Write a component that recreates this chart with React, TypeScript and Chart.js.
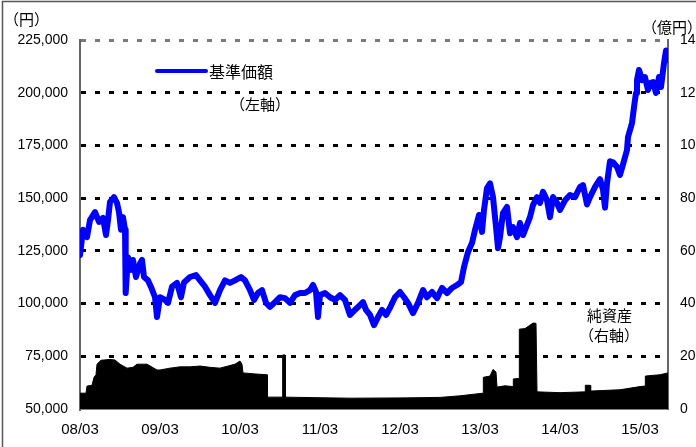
import React, { useEffect, useRef } from "react";
import { Chart, registerables } from "chart.js";

Chart.register(...registerables);

// x positions are months counted from 2008/03
const xTickMonths = [0, 12, 24, 36, 48, 60, 72, 84];
const xTickLabels = ["08/03", "09/03", "10/03", "11/03", "12/03", "13/03", "14/03", "15/03"];
const xMaxMonth = 88.2;

const leftTicks = [50000, 75000, 100000, 125000, 150000, 175000, 200000, 225000];
const rightTicks = [0, 20, 40, 60, 80, 100, 120, 140];

// 基準価額 (left axis, 円)
const navMonths = [
  0, 0.45, 1.05, 1.5, 2.25, 2.85, 3.45, 3.9, 4.2, 4.5, 5.1, 5.55, 5.85, 6.15, 6.45, 6.75, 6.85, 7.2,
  7.65, 7.95, 8.4, 9.0, 9.3, 9.6, 10.2, 10.65, 11.25, 11.55, 12.0, 12.75, 13.2, 13.8, 14.55, 15.15,
  15.6, 16.5, 17.4, 18.0, 18.75, 19.5, 20.25, 21.0, 21.75, 22.5, 23.25, 24.15, 24.75, 25.5, 26.1,
  26.7, 27.3, 27.9, 28.5, 29.25, 30.0, 30.75, 31.5, 32.25, 33.0, 33.75, 34.5, 34.95, 35.4, 35.7,
  36.0, 36.75, 37.5, 38.25, 39.0, 39.75, 40.5, 41.25, 42.0, 42.45, 42.9, 43.5, 44.1, 44.7, 45.3,
  45.9, 46.5, 47.25, 48.0, 48.6, 49.2, 49.95, 50.7, 51.45, 52.05, 52.8, 53.55, 54.3, 55.05, 55.8,
  56.55, 57.15, 57.6, 58.2, 58.8, 59.25, 59.85, 60.3, 60.6, 61.05, 61.5, 61.95, 62.4, 62.7, 63.0,
  63.45, 64.05, 64.5, 64.95, 65.55, 66.0, 66.45, 67.05, 67.5, 67.95, 68.55, 69.0, 69.45, 70.05,
  70.5, 70.95, 71.55, 72.0, 72.75, 73.5, 74.25, 75.0, 75.45, 76.05, 76.5, 77.25, 78.0, 78.45,
  78.75, 79.05, 79.5, 79.95, 80.55, 81.0, 81.45, 82.05, 82.2, 82.8, 83.1, 83.4, 83.55, 83.85,
  84.3, 84.75, 85.2, 85.5, 85.95, 86.4, 86.85, 87.15, 87.6, 87.9, 88.2,
];
const navValues = [
  123000, 135000, 131500, 139600, 143400, 138700, 140600, 132500, 139600, 148200, 150500, 147700,
  143400, 135000, 141000, 135000, 105000, 122000, 116000, 120700, 112600, 119000, 120700, 112600,
  111000, 107900, 103000, 93600, 103000, 101700, 100300, 108000, 109800, 103000, 110000, 112600,
  113500, 111000, 108000, 104000, 100300, 106400, 111000, 109800, 111000, 112600, 111000, 106400,
  101700, 105000, 106400, 100300, 98400, 100700, 103000, 102600, 100300, 104000, 105000, 105000,
  106400, 108800, 105500, 93600, 104000, 105000, 103000, 101700, 104000, 101700, 94600, 97000,
  99300, 100700, 97000, 94600, 89800, 93600, 97000, 94600, 98000, 103000, 105500, 103000, 100300,
  95500, 100300, 106400, 103000, 105500, 102600, 107400, 105000, 107400, 108800, 110200, 117300,
  124500, 128700, 134900, 142000, 134000, 144400, 154800, 157000, 150500, 136300, 126300, 131500,
  143000, 145800, 133400, 136300, 131500, 138200, 132500, 137300, 141000, 146700, 150500, 147700,
  153000, 149000, 141000, 150500, 147700, 144400, 149000, 151500, 150500, 155300, 156200, 147000,
  150500, 155300, 159000, 154000, 145500, 157000, 167500, 167000, 164800, 161000, 166000, 172800,
  179000, 185600, 193200, 199900, 206000, 210800, 206000, 207400, 201300, 204600, 205000, 199900,
  207400, 202700, 214000, 220000, 215500,
];

// 純資産 (right axis, 億円)
const assetMonths = [
  0, 0.9, 1.05, 1.8, 2.1, 2.4, 2.55, 3.15, 4.5, 5.25, 6.0, 7.05, 7.95, 8.55, 10.05, 11.55, 12.0,
  13.5, 15.0, 16.5, 18.0, 19.5, 21.0, 22.5, 23.25, 24.0, 24.3, 24.45, 26.25, 28.05, 28.1, 30.3,
  30.4, 30.75, 30.8, 33.0, 40.5, 48.0, 54.0, 57.0, 60.45, 60.5, 61.5, 61.95, 62.4, 62.55, 63.75,
  64.95, 65.0, 65.85, 65.9, 66.75, 67.95, 68.4, 68.55, 72.0, 75.75, 75.8, 76.5, 76.6, 81.0, 84.0,
  84.75, 84.8, 87.0, 88.2,
];
const assetValues = [
  6, 6, 8.7, 9, 12, 13, 17, 18.5, 18.8, 18.6, 17, 15.5, 15.8, 17, 17, 14.8, 14.8,
  15.5, 16, 16, 16.3, 15.8, 15.5, 16.5, 17, 18.2, 17, 13.7, 13.3, 13, 4.5, 4.5,
  20.5, 20.5, 4.5, 4.4, 4.1, 4.2, 4.4, 5, 6, 12, 12.5, 15, 14, 8.3, 8.8,
  8.5, 11.4, 11.6, 30.3, 30.5, 32.6, 32.5, 6.5, 6.2, 6.5, 9, 9, 6.8, 7.3, 8.5,
  8.7, 12.5, 13, 13.7,
];

const CJK = '"Noto Sans CJK JP", "Noto Sans", sans-serif';
const LAT = '"Liberation Sans", Arial, sans-serif';

const annotations = {
  id: "annotations",
  afterDraw(chart: any) {
    const ctx = chart.ctx;
    ctx.save();
    // outer frame
    ctx.strokeStyle = "#555";
    ctx.lineWidth = 1.5;
    ctx.beginPath();
    ctx.moveTo(2.5, 447);
    ctx.lineTo(2.5, 1.5);
    ctx.lineTo(696, 1.5);
    ctx.stroke();

    ctx.fillStyle = "#000";
    ctx.textBaseline = "middle";
    ctx.textAlign = "left";
    ctx.font = `15px ${CJK}`;
    ctx.fillText("（円）", 4, 19);
    ctx.fillText("（億円）", 642, 27);
    ctx.fillText("（左軸）", 230, 104);
    ctx.fillText("純資産", 587, 315);
    ctx.fillText("（右軸）", 579, 335);
    ctx.font = `16px ${CJK}`;
    ctx.fillText("基準価額", 209, 72);

    // legend line
    ctx.strokeStyle = "#0000FF";
    ctx.lineWidth = 4;
    ctx.lineCap = "round";
    ctx.beginPath();
    ctx.moveTo(157, 71);
    ctx.lineTo(206, 71);
    ctx.stroke();
    ctx.restore();
  },
};

export default function App() {
  const ref = useRef<HTMLCanvasElement | null>(null);

  useEffect(() => {
    document.body.style.margin = "0";
    const canvas = ref.current;
    if (!canvas) return;
    const chart = new Chart(canvas, {
      type: "line",
      data: {
        datasets: [
          {
            label: "基準価額",
            data: navMonths.map((m, i) => ({ x: m, y: navValues[i] })),
            yAxisID: "y",
            borderColor: "#0000FF",
            borderWidth: 6,
            pointRadius: 0,
            tension: 0,
            fill: false,
            borderJoinStyle: "round",
            borderCapStyle: "round",
          },
          {
            label: "純資産",
            data: assetMonths.map((m, i) => ({ x: m, y: assetValues[i] })),
            yAxisID: "y1",
            borderColor: "#000",
            backgroundColor: "#000",
            borderWidth: 1,
            pointRadius: 0,
            tension: 0,
            fill: "origin",
          },
        ],
      },
      options: {
        responsive: false,
        animation: false,
        devicePixelRatio: 1,
        layout: { padding: { top: 40, left: 0, right: 0, bottom: 0 } },
        plugins: { legend: { display: false }, tooltip: { enabled: false } },
        scales: {
          x: {
            type: "linear",
            min: 0,
            max: xMaxMonth,
            afterBuildTicks: (scale: any) => {
              scale.ticks = xTickMonths.map((v) => ({ value: v }));
            },
            afterFit: (scale: any) => {
              scale.height = 38;
            },
            grid: { display: false, drawTicks: false },
            border: { display: true, color: "#808080", width: 2 },
            ticks: {
              autoSkip: false,
              maxRotation: 0,
              padding: 12,
              color: "#000",
              font: { family: LAT, size: 15 },
              callback: (v: any) => {
                const i = xTickMonths.indexOf(Number(v));
                return i >= 0 ? xTickLabels[i] : "";
              },
            },
          },
          y: {
            type: "linear",
            position: "left",
            min: 50000,
            max: 225000,
            afterBuildTicks: (scale: any) => {
              scale.ticks = leftTicks.map((v) => ({ value: v }));
            },
            afterFit: (scale: any) => {
              scale.width = 80;
            },
            grid: {
              drawTicks: false,
              lineWidth: 3,
              color: (c: any) =>
                c.tick && c.tick.value === 50000
                  ? "rgba(0,0,0,0)"
                  : c.tick && c.tick.value === 225000
                  ? "#7a7a7a"
                  : "#000",
            },
            border: { display: true, color: "#666", width: 2, dash: [5, 9] },
            ticks: {
              padding: 12,
              color: "#000",
              font: { family: LAT, size: 14 },
              callback: (v: any) => Number(v).toLocaleString("en-US"),
            },
          },
          y1: {
            type: "linear",
            position: "right",
            min: 0,
            max: 140,
            afterBuildTicks: (scale: any) => {
              scale.ticks = rightTicks.map((v) => ({ value: v }));
            },
            afterFit: (scale: any) => {
              scale.width = 28;
            },
            grid: { display: false, drawTicks: false },
            border: { display: true, color: "#666", width: 2 },
            ticks: {
              padding: 12,
              color: "#000",
              font: { family: LAT, size: 14 },
            },
          },
        },
      },
      plugins: [annotations],
    });
    return () => chart.destroy();
  }, []);

  return (
    <div style={{ position: "absolute", left: 0, top: 0, width: 696, height: 447, background: "#fff" }}>
      <canvas ref={ref} width={696} height={447} style={{ display: "block" }} />
    </div>
  );
}
